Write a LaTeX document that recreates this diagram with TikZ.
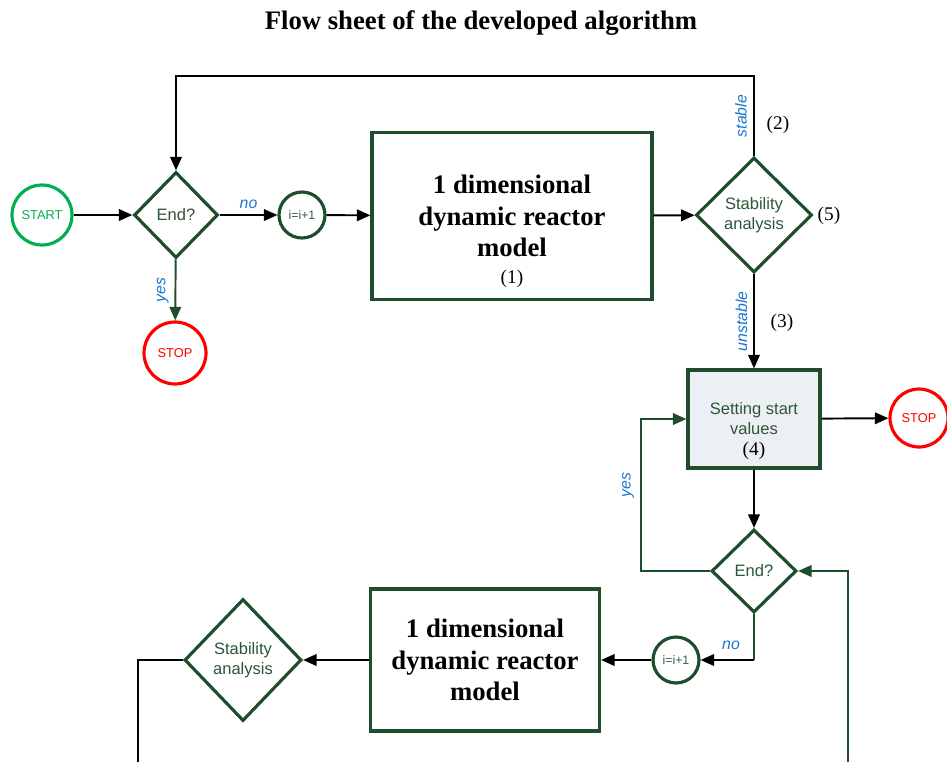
\documentclass[tikz,border=0pt]{standalone}
\usepackage{fontspec}
\setmainfont{Liberation Serif}
\setsansfont{Liberation Sans}
\usepackage{tikz}
\usetikzlibrary{arrows.meta,shapes.geometric}

\definecolor{dkgreen}{HTML}{1E4D2B}
\definecolor{stgreen}{HTML}{00B050}
\definecolor{lblue}{HTML}{1A75CF}
\definecolor{boxfill}{HTML}{ECEFF4}

\begin{document}
\begin{tikzpicture}[
  x=0.02cm, y=-0.02cm,
  arr/.style={-{Triangle[length=2.7mm,width=2.3mm]}, line width=1.1pt},
  line/.style={line width=1.1pt},
  gline/.style={line width=1.1pt, draw=dkgreen},
  cnode/.style={draw=dkgreen,circle,line width=1.8pt,inner sep=0pt,minimum size=0.92cm,
    text=dkgreen!70!gray,font=\sffamily\fontsize{7}{8}\selectfont},
  tnode/.style={circle,line width=1.8pt,inner sep=0pt,minimum size=1.2cm,fill=white,
    font=\sffamily\fontsize{7.3}{8}\selectfont},
  dnode/.style={draw=dkgreen,diamond,line width=1.8pt,inner sep=0pt,shape aspect=1,
    text=dkgreen!85!gray,align=center,font=\sffamily\fontsize{9.4}{11.3}\selectfont},
  mnode/.style={draw=dkgreen,rectangle,line width=1.8pt,align=center,
    font=\bfseries\fontsize{15.2}{18}\selectfont},
  lbl/.style={text=lblue,font=\sffamily\itshape\fontsize{9}{10}\selectfont},
  num/.style={font=\fontsize{11}{12}\selectfont}
]
  \useasboundingbox[fill=white] (0,0) rectangle (947,762);

  % title
  \node[font=\bfseries\fontsize{15.2}{17}\selectfont] (title) at (481,23) {Flow sheet of the developed algorithm};

  % first loop
  \node[tnode,draw=stgreen,text=stgreen] (start) at (42,215) {START};
  \node[dnode,minimum width=1.68cm,minimum height=1.72cm] (end1) at (176,215) {End?};
  \node[tnode,draw=red,text=red,minimum size=1.24cm] (stop1) at (175,353) {STOP};
  \node[cnode] (inc1) at (302,215) {i=i+1};
  \node[mnode,minimum width=5.6cm,minimum height=3.34cm] (model1) at (512,216)
    {1 dimensional\\dynamic reactor\\model};
  \node[num] (n1) at (512,279) {(1)};
  \node[dnode,minimum width=2.32cm,minimum height=2.3cm] (stab1) at (754,215) {Stability\\analysis};
  \node[num] (n2) at (778,125) {(2)};
  \node[num] (n5) at (829,216) {(5)};
  \node[num] (n3) at (782,323) {(3)};

  % second loop
  \node[mnode,fill=boxfill,minimum width=2.64cm,minimum height=1.96cm,
    font=\sffamily\fontsize{9.4}{11.3}\selectfont,text=dkgreen!85!gray] (setbox) at (754,419)
    {Setting start\\values};
  \node[num] (n4) at (754,451) {(4)};
  \node[tnode,draw=red,text=red,minimum size=1.16cm] (stop2) at (919,418) {STOP};
  \node[dnode,minimum width=1.7cm,minimum height=1.66cm] (end2) at (754,571) {End?};
  \node[cnode] (inc2) at (676,660) {i=i+1};
  \node[mnode,minimum width=4.58cm,minimum height=2.84cm] (model2) at (485,660)
    {1 dimensional\\dynamic reactor\\model};
  \node[dnode,minimum width=2.34cm,minimum height=2.44cm] (stab2) at (243,660) {Stability\\analysis};

  % helper points
  \coordinate (top) at (464,76);
  \coordinate (yesc) at (641,500);
  \coordinate (rin) at (848,762);
  \coordinate (nocorner) at (754,660);
  \coordinate (lout) at (138,762);

  % edges
  \draw[arr] (start) -- (end1);
  \draw[arr] (end1) -- node[lbl,above] {no} (inc1);
  \draw[arr,dkgreen] (end1) -- node[lbl,left,rotate=90,anchor=south] {yes} (stop1);
  \draw[arr] (inc1) -- (model1);
  \draw[arr] (model1) -- (stab1);
  \draw[arr] (stab1.north) |- (top) -| (end1.north);
  \draw[arr] (stab1) -- node[lbl,rotate=90,anchor=south] {unstable} (setbox);
  \draw[arr] (setbox) -- (stop2);
  \draw[arr] (setbox) -- (end2);
  \draw[arr,dkgreen] (end2.west) -| (yesc) |- (setbox.west);
  \draw[arr,dkgreen] (rin) |- (end2.east);
  \draw[gline] (end2.south) -- (nocorner);
  \draw[arr] (nocorner) -- (inc2);
  \draw[arr] (inc2) -- (model2);
  \draw[arr] (model2) -- (stab2);
  \draw[line] (stab2.west) -| (lout);

  % labels
  \node[lbl,rotate=90] (lstable) at (741,116) {stable};
  \node[lbl,rotate=90] (lyes2) at (628,485) {yes};
  \node[lbl] (lno2) at (731,645) {no};
\end{tikzpicture}
\end{document}
